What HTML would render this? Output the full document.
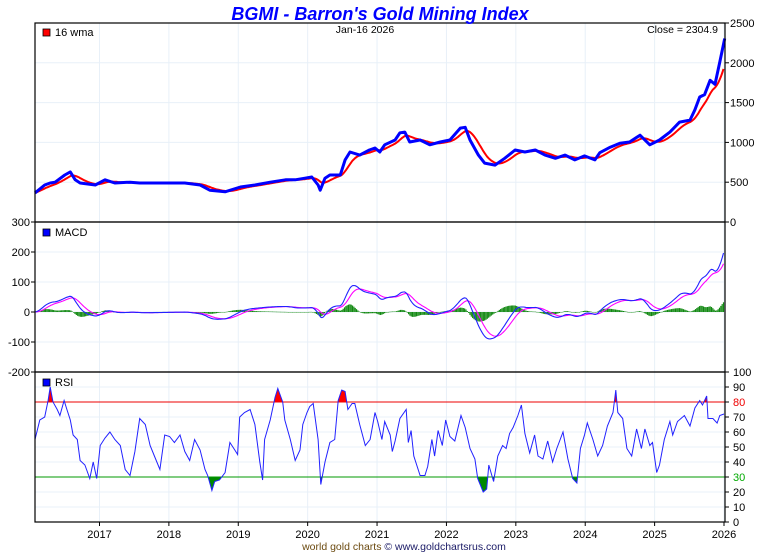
<!DOCTYPE html>
<html><head><meta charset="utf-8"><style>
body{margin:0;background:#fff;width:760px;height:552px;overflow:hidden;font-family:"Liberation Sans",sans-serif}
svg text{font-family:"Liberation Sans",sans-serif}
</style></head><body>
<svg id="c" width="760" height="552" xmlns="http://www.w3.org/2000/svg"></svg>
<script>
const priceDates=[2016.07,2016.21,2016.29,2016.36,2016.50,2016.58,2016.65,2016.72,2016.94,2017.08,2017.22,2017.44,2017.58,2017.73,2018.02,2018.23,2018.45,2018.59,2018.81,2019.03,2019.24,2019.46,2019.68,2019.82,2019.96,2020.06,2020.15,2020.18,2020.25,2020.32,2020.47,2020.54,2020.61,2020.75,2020.89,2020.97,2021.04,2021.11,2021.26,2021.33,2021.40,2021.47,2021.62,2021.76,2021.91,2022.05,2022.20,2022.27,2022.34,2022.46,2022.55,2022.70,2022.84,2022.99,2023.13,2023.28,2023.42,2023.57,2023.71,2023.85,2023.99,2024.14,2024.21,2024.36,2024.50,2024.64,2024.79,2024.93,2025.07,2025.22,2025.36,2025.51,2025.58,2025.65,2025.72,2025.80,2025.87,2025.94,2026.01];
const priceValues=[365,465,490,500,590,630,530,490,465,530,490,500,490,490,490,490,465,400,380,440,465,500,530,530,550,565,465,400,550,590,590,780,880,840,905,930,880,970,1030,1120,1130,1005,1030,970,1005,1030,1180,1190,1030,840,740,715,800,905,880,905,840,800,840,780,830,780,870,940,990,1005,1090,970,1030,1130,1255,1280,1410,1570,1600,1780,1730,2010,2305];
const rsiDates=[2016.07,2016.14,2016.21,2016.26,2016.29,2016.33,2016.39,2016.43,2016.49,2016.53,2016.58,2016.62,2016.68,2016.72,2016.79,2016.86,2016.91,2016.96,2017.01,2017.08,2017.15,2017.22,2017.30,2017.37,2017.44,2017.51,2017.58,2017.66,2017.73,2017.80,2017.87,2017.94,2018.01,2018.08,2018.16,2018.23,2018.30,2018.37,2018.45,2018.52,2018.56,2018.62,2018.66,2018.73,2018.81,2018.88,2018.95,2018.99,2019.02,2019.09,2019.17,2019.24,2019.31,2019.35,2019.38,2019.46,2019.53,2019.57,2019.64,2019.67,2019.75,2019.82,2019.89,2019.93,2019.99,2020.03,2020.08,2020.15,2020.19,2020.25,2020.32,2020.39,2020.44,2020.49,2020.54,2020.58,2020.64,2020.68,2020.75,2020.83,2020.90,2020.97,2021.01,2021.07,2021.11,2021.19,2021.22,2021.26,2021.33,2021.42,2021.45,2021.49,2021.53,2021.62,2021.69,2021.73,2021.79,2021.83,2021.88,2021.94,2021.99,2022.05,2022.12,2022.21,2022.27,2022.34,2022.41,2022.45,2022.53,2022.58,2022.61,2022.68,2022.74,2022.81,2022.86,2022.91,2022.96,2023.03,2023.08,2023.13,2023.20,2023.27,2023.32,2023.39,2023.46,2023.53,2023.59,2023.68,2023.75,2023.82,2023.88,2023.93,2023.99,2024.03,2024.11,2024.18,2024.25,2024.32,2024.40,2024.44,2024.47,2024.54,2024.60,2024.67,2024.74,2024.81,2024.86,2024.93,2024.97,2025.03,2025.07,2025.14,2025.22,2025.26,2025.33,2025.43,2025.51,2025.58,2025.65,2025.69,2025.75,2025.77,2025.84,2025.90,2025.94,2026.00];
const rsiValues=[55,68,70,81,90,80,75,71,81,75,68,58,55,41,38,29,40,29,51,56,60,55,51,35,31,47,69,65,51,43,35,58,57,53,58,47,41,55,48,35,31,21,27,28,33,53,48,45,70,73,75,65,40,28,55,68,83,89,80,68,55,41,48,65,73,77,79,55,25,40,53,55,81,88,87,75,79,79,65,51,55,73,67,55,67,58,47,54,69,75,53,61,44,31,31,37,55,44,61,51,68,57,54,71,63,49,42,29,20,22,38,27,44,51,49,59,63,71,78,59,46,58,44,42,54,40,49,60,42,29,26,49,58,66,55,44,51,64,73,88,73,69,49,44,62,49,62,51,53,33,38,55,67,58,67,71,64,76,81,78,84,69,69,66,71,72];
const yearTicks=[2017,2018,2019,2020,2021,2022,2023,2024,2025,2026];
const priceTicks=[0,500,1000,1500,2000,2500];
const macdTicks=[-200,-100,0,100,200,300];
const rsiTicks=[0,10,20,30,40,50,60,70,80,90,100];

const L=35,R=725;
const X=y=>30.1+(y-2016)*69.39;
const PY=v=>222-v*199/2500;
const MY=v=>312-v*0.3;
const RY=v=>522-v*1.5;
const NS="http://www.w3.org/2000/svg";
const svg=document.getElementById('c');
function el(t,a,p){const e=document.createElementNS(NS,t);for(const k in a)e.setAttribute(k,a[k]);(p||svg).appendChild(e);return e;}
function txt(s,x,y,a){const e=el('text',Object.assign({x:x,y:y,'font-size':11,fill:'#000'},a||{}));e.textContent=s;return e;}

const wk=[],wp=[];
for(let t=priceDates[0];t<=priceDates[priceDates.length-1]+1e-9;t+=1/52){
  let i=0;while(i<priceDates.length-2&&priceDates[i+1]<t)i++;
  const f=Math.min(1,Math.max(0,(t-priceDates[i])/(priceDates[i+1]-priceDates[i])));
  wk.push(t);wp.push(priceValues[i]+f*(priceValues[i+1]-priceValues[i]));
}
const wma=wp.map((v,i)=>{let s=0,w=0;for(let k=0;k<16&&i-k>=0;k++){s+=wp[i-k]*(16-k);w+=16-k;}return s/w;});
function ema(a,n){const k=2/(n+1);let e=a[0];return a.map(v=>e=v*k+e*(1-k));}
const e12=ema(wp,12),e26=ema(wp,26);
const macd=e12.map((v,i)=>v-e26[i]);
const sig=ema(macd,9);

const grid=el('g',{stroke:'#e8f0f8','stroke-width':1});

yearTicks.forEach(y=>el('line',{x1:X(y),x2:X(y),y1:23,y2:522},grid));
priceTicks.forEach(v=>{if(v>0&&v<2500)el('line',{x1:L,x2:R,y1:PY(v),y2:PY(v)},grid);});
macdTicks.forEach(v=>{if(v>-200&&v<300)el('line',{x1:L,x2:R,y1:MY(v),y2:MY(v)},grid);});
rsiTicks.forEach(v=>{if(v>0&&v<100)el('line',{x1:L,x2:R,y1:RY(v),y2:RY(v)},grid);});

const pts=(xs,ys,fy)=>xs.map((x,i)=>X(x).toFixed(1)+','+fy(ys[i]).toFixed(1)).join(' ');
const wl=el('polyline',{points:pts(wk,wma,PY),fill:'none',stroke:'#f00','stroke-width':2});

const pl=el('polyline',{points:pts(priceDates,priceValues,PY),fill:'none',stroke:'#00f','stroke-width':3,'stroke-linejoin':'round'});


const hg=el('g',{fill:'#118811'});

macd.forEach((m,i)=>{const h=(m-sig[i])*0.9;const y0=MY(0),y1=MY(h);
  const b=el('rect',{x:X(wk[i])-0.6,y:Math.min(y0,y1),width:1.2,height:Math.max(0.5,Math.abs(y1-y0))},hg);
  });
const sl=el('polyline',{points:pts(wk,sig,MY),fill:'none',stroke:'#f0f','stroke-width':1.1});

const ml=el('polyline',{points:pts(wk,macd,MY),fill:'none',stroke:'#22f','stroke-width':1.1});


const defs=el('defs',{});
const c1=el('clipPath',{id:'above'},defs);el('rect',{x:L,y:372,width:R-L,height:RY(80)-372},c1);
const c2=el('clipPath',{id:'below'},defs);el('rect',{x:L,y:RY(30),width:R-L,height:522-RY(30)},c2);
const rp=pts(rsiDates,rsiValues,RY);
const fx0=X(rsiDates[0]).toFixed(1),fx1=X(rsiDates[rsiDates.length-1]).toFixed(1);
const fa=el('polygon',{points:fx0+','+RY(80)+' '+rp+' '+fx1+','+RY(80),fill:'#f00','clip-path':'url(#above)'});

const fb=el('polygon',{points:fx0+','+RY(30)+' '+rp+' '+fx1+','+RY(30),fill:'#080','clip-path':'url(#below)'});

const l80=el('line',{x1:L,x2:R,y1:RY(80),y2:RY(80),stroke:'#e00','stroke-width':1});

const l30=el('line',{x1:L,x2:R,y1:RY(30),y2:RY(30),stroke:'#090','stroke-width':1});

const rl=el('polyline',{points:rp,fill:'none',stroke:'#22f','stroke-width':1});


[[23,222],[222,372],[372,522]].forEach(([a,b],i)=>{
  const r=el('rect',{x:L,y:a,width:R-L,height:b-a,fill:'none',stroke:'#000','stroke-width':1.2});
  });

priceTicks.forEach(v=>{el('line',{x1:R,x2:R+4,y1:PY(v),y2:PY(v),stroke:'#000'});
  const t=txt(String(v),730,PY(v)+4);});
macdTicks.forEach(v=>{el('line',{x1:L-4,x2:L,y1:MY(v),y2:MY(v),stroke:'#000'});
  const t=txt(String(v),30,MY(v)+4,{'text-anchor':'end'});});
rsiTicks.forEach(v=>{el('line',{x1:R,x2:R+4,y1:RY(v),y2:RY(v),stroke:'#000'});
  const t=txt(String(v),733,RY(v)+4,{fill:v==80?'#e00':v==30?'#0a0':'#000'});});
yearTicks.forEach(y=>{el('line',{x1:X(y),x2:X(y),y1:522,y2:526,stroke:'#000'});
  const t=txt(String(y),X(y),538,{'text-anchor':'middle'});});

function legend(y,color,label,name){const g=el('g',{});
  el('rect',{x:43,y:y-7,width:7,height:7,fill:color,stroke:'#000','stroke-width':0.8},g);
  const t=txt(label,55,y,{}) ;g.appendChild(t);}
legend(36,'#f00','16 wma','legend-wma');
legend(236,'#00f','MACD','legend-macd');
legend(386,'#00f','RSI','legend-rsi');
let t=txt('Jan-16  2026',365,33,{'text-anchor':'middle','font-size':10.5,'xml:space':'preserve'});
t=txt('Close = 2304.9',718,33,{'text-anchor':'end','font-size':10.5});
t=txt("BGMI - Barron's Gold Mining Index",380,20,{'text-anchor':'middle','font-size':18,'font-weight':'bold','font-style':'italic',fill:'#00f'});

t=el('text',{x:404,y:550,'text-anchor':'middle','font-size':10.5,fill:'#1a1a66'});

const s1=el('tspan',{fill:'#6b4a10'},t);s1.textContent='world gold charts';
const s2=el('tspan',{},t);s2.textContent=' © www.goldchartsrus.com';
</script>
</body></html>
